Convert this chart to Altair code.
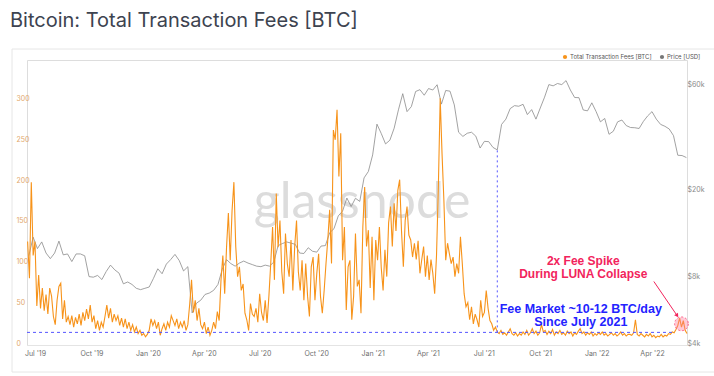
import altair as alt
import pandas as pd

TITLE = "Bitcoin: Total Transaction Fees [BTC]"
FEE_NAME = "Total Transaction Fees [BTC]"
PRICE_NAME = "Price [USD]"
ORANGE = "#f7931a"
GRAY = "#8a8a8a"
PINK = "#f2245c"
BLUE = "#2323ff"

# Daily fee total, sampled every 3 days (BTC)
FEE_START = "2019-06-19"
FEE_STEP_DAYS = 3
fees_btc = [
    127, 82, 200, 110, 127, 48, 86, 45, 70, 42,
    62, 38, 70, 60, 35, 25, 55, 72, 76, 32,
    55, 28, 35, 25, 36, 22, 34, 26, 38, 24,
    40, 30, 44, 32, 49, 28, 36, 20, 30, 18,
    28, 22, 35, 49, 33, 45, 28, 38, 30, 36,
    24, 33, 22, 32, 20, 28, 18, 25, 16, 22,
    14, 18, 12, 14, 10, 13, 18, 32, 24, 30,
    20, 28, 12, 20, 26, 18, 28, 22, 36, 30,
    24, 32, 20, 28, 22, 30, 18, 25, 50, 80,
    40, 55, 30, 45, 25, 20, 28, 14, 22, 12,
    18, 28, 20, 41, 30, 80, 110, 63, 120, 162,
    104, 165, 200, 121, 84, 96, 67, 75, 39, 31,
    18, 51, 38, 35, 45, 28, 63, 40, 30, 55,
    27, 60, 100, 145, 80, 186, 120, 153, 90, 63,
    137, 100, 84, 129, 67, 121, 153, 90, 67, 104,
    55, 100, 60, 35, 96, 108, 55, 88, 112, 60,
    39, 67, 100, 130, 166, 100, 264, 252, 289, 207,
    260, 104, 145, 43, 96, 104, 31, 60, 137, 72,
    80, 39, 145, 194, 121, 141, 70, 133, 55, 129,
    104, 145, 95, 67, 117, 84, 150, 170, 121, 174,
    140, 190, 203, 140, 96, 153, 170, 135, 129, 108,
    125, 105, 128, 88, 105, 121, 84, 110, 80, 105,
    88, 63, 110, 194, 303, 235, 178, 104, 125, 112,
    100, 108, 84, 100, 88, 133, 100, 63, 47, 52,
    31, 47, 26, 38, 31, 22, 55, 35, 40, 67,
    45, 30, 26, 18, 22, 16, 14, 18, 13, 15,
    12, 16, 20, 14, 12, 15, 11, 14, 12, 16,
    13, 18, 12, 15, 20, 14, 17, 12, 15, 25,
    16, 18, 13, 17, 14, 19, 12, 16, 14, 18,
    13, 15, 12, 17, 14, 16, 11, 15, 13, 17,
    20, 14, 16, 12, 15, 13, 16, 11, 14, 12,
    15, 13, 16, 12, 14, 11, 13, 15, 12, 14,
    11, 13, 16, 12, 14, 11, 13, 13, 12, 15,
    31, 13, 11, 14, 12, 10, 13, 11, 14, 10,
    12, 9, 11, 10, 13, 10, 12, 11, 14, 13,
    16, 15, 19, 24, 33, 22, 30, 18, 14,
]

# BTC price, weekly (USD)
PRICE_START = "2019-06-21"
PRICE_STEP_DAYS = 7
price_usd = [
    10200, 12400, 11000, 11800, 10500, 9900,
    10500, 11900, 10300, 10400, 9600,
    10400, 10400, 10200, 8200,
    8150, 8300, 7950, 8650,
    9250, 8800, 8500, 7600, 7750,
    7550, 7250, 7150, 7250,
    7350, 8050, 8900, 8450, 9350,
    9800, 10350, 9700, 8700,
    9100, 5600, 6200, 6400,
    6800, 6900, 7100, 7550,
    8850, 9800, 9400, 9150, 9450,
    9650, 9450, 9300, 9150,
    9100, 9250, 9150, 9550, 11350,
    11600, 11800, 11650, 11500,
    10500, 10450, 11100, 10700,
    10600, 11300, 11350, 13000, 13550,
    15500, 16300, 18700, 17100,
    18650, 18050, 23100, 24700,
    29400, 40600, 36800, 33000, 34300,
    38900, 47200, 55900, 46300,
    48800, 57200, 58300, 55000,
    59000, 58100, 61400, 50100, 57800,
    57400, 49700, 37300, 35700,
    36900, 37300, 35800, 31600,
    33900, 33800, 31800, 31000, 40500,
    42800, 47800, 49300, 49000,
    50000, 44900, 47300, 42800,
    48100, 53900, 61500, 60700, 62200,
    61500, 64100, 58100, 53700,
    53600, 47100, 46700, 50800, 46300,
    41600, 43100, 36500, 37700,
    41600, 42400, 40000, 39200,
    39100, 38800, 41800, 44300,
    46300, 42800, 40500, 39700, 38600,
    36000, 29300, 29200, 28600,
]

fee_ticks = [0, 50, 100, 150, 200, 250, 300, 350]
price_ticks = [4000, 8000, 20000, 60000]
quarter_ticks = [(2019, 7), (2019, 10), (2020, 1), (2020, 4), (2020, 7), (2020, 10),
                 (2021, 1), (2021, 4), (2021, 7), (2021, 10), (2022, 1), (2022, 4)]

# Annotation values
fee_floor = 15.5
floor_dates = ["2019-06-18", "2022-05-08"]
july_low_date = "2021-07-23"
july_low_on_fee_axis = 239
spike_date, spike_fee = "2022-05-19", 26
arrow_from = ("2022-04-04", 78)
arrow_to = ("2022-05-12", 36)
pink_lines = ["2x Fee Spike", "During LUNA Collapse"]
pink_dates = ["2021-12-10", "2021-12-10"]
pink_levels = [103, 87]
blue_lines = ["Fee Market ~10-12 BTC/day", "Since July 2021"]
blue_dates = ["2021-12-06", "2021-12-06"]
blue_levels = [44, 28]

fee_df = pd.DataFrame({
    "date": pd.date_range(FEE_START, periods=len(fees_btc), freq=f"{FEE_STEP_DAYS}D"),
    "value": fees_btc,
})
price_df = pd.DataFrame({
    "date": pd.date_range(PRICE_START, periods=len(price_usd), freq=f"{PRICE_STEP_DAYS}D"),
    "value": price_usd,
})

x_scale = alt.Scale(domain=[alt.DateTime(year=2019, month=6, date=18),
                            alt.DateTime(year=2022, month=5, date=28)])
fee_scale = alt.Scale(domain=[0, 350], nice=False, zero=True)
price_scale = alt.Scale(type="log", domain=[4000, 79600], nice=False)

x_axis = alt.Axis(
    values=[alt.DateTime(year=y, month=m, date=1) for y, m in quarter_ticks],
    format="%b '%y", labelFont="Inter", labelFontSize=7, labelColor="#6f6f6f",
    labelPadding=4, ticks=False, grid=False, domainColor="#e4e4e4", title=None,
)
fee_axis = alt.Axis(
    values=fee_ticks, orient="left", labelExpr="datum.value >= 350 ? '' : datum.label",
    labelAlign="left", labelPadding=11, labelBaseline="alphabetic", ticks=False,
    domain=False, gridColor="#efefef", labelColor="#e2a86c", labelFont="Inter",
    labelFontSize=7, title=None,
)
price_axis = alt.Axis(
    values=price_ticks, orient="right",
    labelExpr="'$' + format(datum.value / 1000, 'd') + 'k'",
    labelAlign="left", labelPadding=0, labelBaseline="alphabetic", ticks=False,
    domain=False, grid=False, labelColor="#8a8a8a", labelFont="Inter",
    labelFontSize=7, title=None,
)


def X(field):
    return alt.X(field, type="temporal", scale=x_scale, axis=x_axis)


def YF(field):
    return alt.Y(field, type="quantitative", scale=fee_scale, axis=fee_axis)


one = pd.DataFrame({"k": [0]})

# Background decorations
panel = alt.Chart(one).mark_rect(fillOpacity=0, stroke="#e6e6e6", strokeWidth=1).encode(
    x=alt.value(-15), x2=alt.value(700), y=alt.value(-11), y2=alt.value(312)
)
title = alt.Chart(one).mark_text(align="left", baseline="alphabetic", font="Inter",
                                 fontSize=20, color="#3d4350").encode(
    x=alt.value(-17), y=alt.value(-33), text=alt.value(TITLE)
)
watermark = alt.Chart(one).mark_text(align="center", baseline="alphabetic", font="Lato",
                                     fontSize=50, color="#dcdcdc").encode(
    x=alt.value(335), y=alt.value(158), text=alt.value("glassnode")
)
leg_dot1 = alt.Chart(one).mark_circle(size=18, color=ORANGE, opacity=1).encode(
    x=alt.value(538), y=alt.value(-3))
leg_txt1 = alt.Chart(one).mark_text(align="left", baseline="middle", font="Inter",
                                    fontSize=6, color="#555").encode(
    x=alt.value(543), y=alt.value(-3), text=alt.value(FEE_NAME))
leg_dot2 = alt.Chart(one).mark_circle(size=18, color="#777", opacity=1).encode(
    x=alt.value(635), y=alt.value(-3))
leg_txt2 = alt.Chart(one).mark_text(align="left", baseline="middle", font="Inter",
                                    fontSize=6, color="#555").encode(
    x=alt.value(640), y=alt.value(-3), text=alt.value(PRICE_NAME))

background = alt.layer(panel, title, watermark, leg_dot1, leg_txt1, leg_dot2, leg_txt2)

price_line = alt.Chart(price_df).mark_line(color=GRAY, strokeWidth=0.8).encode(
    x=X("date"),
    y=alt.Y("value:Q", scale=price_scale, axis=price_axis),
)

fee_line = alt.Chart(fee_df).mark_line(color=ORANGE, strokeWidth=1.1).encode(
    x=X("date"), y=YF("value"),
)

floor_df = pd.DataFrame({"d1": [pd.Timestamp(floor_dates[0])], "d2": [pd.Timestamp(floor_dates[1])],
                         "v": [fee_floor]})
floor_rule = alt.Chart(floor_df).mark_rule(color="#5555ff", strokeWidth=1, strokeDash=[3, 3]).encode(
    x=X("d1"), x2="d2:T", y=YF("v"),
)
vline_df = pd.DataFrame({"d": [pd.Timestamp(july_low_date)], "v1": [july_low_on_fee_axis],
                         "v2": [fee_floor]})
vline = alt.Chart(vline_df).mark_rule(color="#5555ff", strokeWidth=1, strokeDash=[2, 3]).encode(
    x=X("d"), y=YF("v1"), y2="v2:Q",
)
spike_df = pd.DataFrame({"d": [pd.Timestamp(spike_date)], "v": [spike_fee]})
spike_circle = alt.Chart(spike_df).mark_point(
    shape="circle", size=190, filled=True, fill="#ff7a9a", fillOpacity=0.4,
    stroke="#ff5c86", strokeWidth=1, strokeDash=[2, 2], opacity=1,
).encode(x=X("d"), y=YF("v"))
arrow_df = pd.DataFrame({"d1": [pd.Timestamp(arrow_from[0])], "v1": [arrow_from[1]],
                         "d2": [pd.Timestamp(arrow_to[0])], "v2": [arrow_to[1]]})
arrow_line = alt.Chart(arrow_df).mark_rule(color=PINK, strokeWidth=1).encode(
    x=X("d1"), x2="d2:T", y=YF("v1"), y2="v2:Q",
)
arrow_head = alt.Chart(arrow_df).mark_point(shape="triangle-up", angle=146, size=22,
                                            filled=True, color=PINK, opacity=1).encode(
    x=X("d2"), y=YF("v2"),
)
pink_df = pd.DataFrame({"d": pd.to_datetime(pink_dates), "v": pink_levels, "t": pink_lines})
pink_text = alt.Chart(pink_df).mark_text(font="Liberation Sans", fontWeight="bold", fontSize=12,
                                         color=PINK, align="center", baseline="middle").encode(
    x=X("d"), y=YF("v"), text="t:N",
)
blue_df = pd.DataFrame({"d": pd.to_datetime(blue_dates), "v": blue_levels, "t": blue_lines})
blue_text = alt.Chart(blue_df).mark_text(font="Liberation Sans", fontWeight="bold", fontSize=12.5,
                                         color=BLUE, align="center", baseline="middle").encode(
    x=X("d"), y=YF("v"), text="t:N",
)

fee_layer = alt.layer(fee_line, floor_rule, vline, spike_circle, arrow_line, arrow_head,
                      pink_text, blue_text)

chart = alt.layer(background, price_line, fee_layer).resolve_scale(
    y="independent"
).properties(
    width=660, height=285,
    padding={"left": 27, "top": 60, "right": 27, "bottom": 31},
    autosize=alt.AutoSizeParams(type="none"),
).configure_view(stroke=None).configure(background="white")

chart.save("out.html", embed_options={"renderer": "svg", "actions": False})
